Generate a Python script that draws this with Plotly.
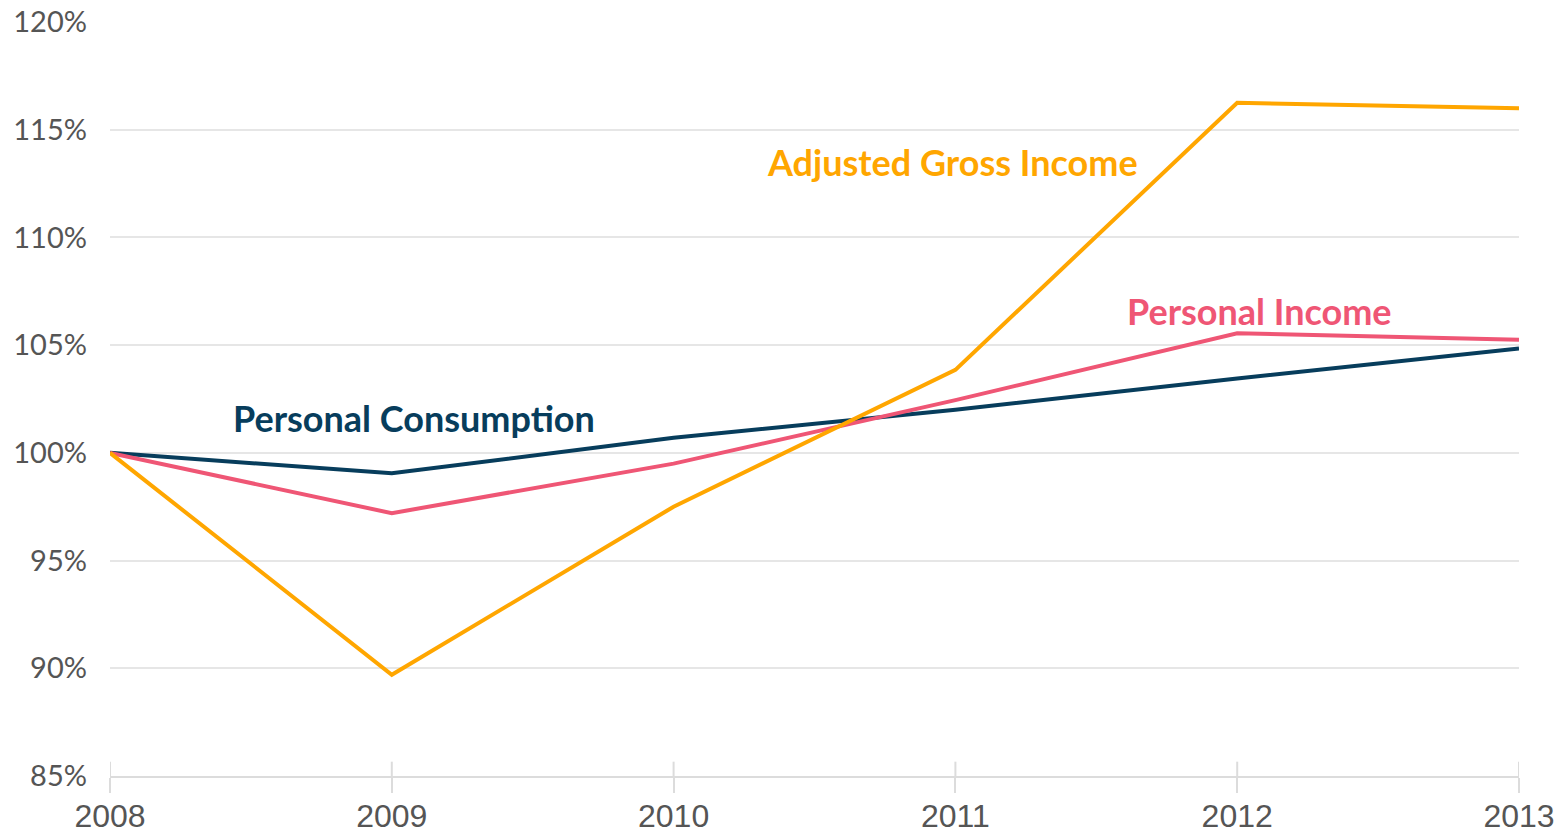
import plotly.graph_objects as go

years = [2008, 2009, 2010, 2011, 2012, 2013]
agi = [100.0, 89.7, 97.5, 103.85, 116.25, 116.0]
personal_income = [100.0, 97.2, 99.5, 102.45, 105.55, 105.25]
personal_consumption = [100.0, 99.05, 100.7, 102.0, 103.45, 104.85]

y_ticks = [85, 90, 95, 100, 105, 110, 115, 120]
y_tick_labels = [f"{v}%" for v in y_ticks]

series = [
    ("Personal Consumption", personal_consumption, "#073D5C", 2009.08, 101.62),
    ("Personal Income", personal_income, "#EF5675", 2012.08, 106.6),
    ("Adjusted Gross Income", agi, "#FFA600", 2010.99, 113.5),
]

fig = go.Figure()
for name, vals, color, ax, ay in series:
    fig.add_trace(go.Scatter(x=years, y=vals, mode="lines", name=name,
                             line=dict(color=color, width=4), showlegend=False))
    fig.add_annotation(x=ax, y=ay, text=f"<b>{name}</b>", showarrow=False,
                       xanchor="center", yanchor="middle",
                       font=dict(family="Lato", size=36, color=color))

# tick marks extending above the axis line
for yr in years:
    fig.add_shape(type="line", xref="x", yref="y domain", x0=yr, x1=yr, y0=0, y1=0.019,
                  line=dict(color="#dcdcdc", width=2), layer="below")

fig.update_layout(
    width=1565, height=834,
    margin=dict(l=110, r=46, t=22, b=58, autoexpand=False),
    plot_bgcolor="white", paper_bgcolor="white",
    xaxis=dict(range=[2008, 2013], tickvals=years, ticktext=[str(y) for y in years],
               automargin=False,
               showgrid=False, zeroline=False, showline=True, linecolor="#dcdcdc", linewidth=2,
               ticks="outside", ticklen=15, tickwidth=2, tickcolor="#dcdcdc",
               ticklabelstandoff=-4,
               tickfont=dict(family="Liberation Sans, Arial", size=32, color="#555555")),
    yaxis=dict(range=[85, 120], tickvals=y_ticks, ticktext=y_tick_labels,
               automargin=False,
               showgrid=True, gridcolor="#e6e6e6", gridwidth=1.5, zeroline=False,
               ticklabelstandoff=22,
               tickfont=dict(family="Lato", size=29, color="#555555")),
)

fig.write_html(
    "out.html",
    config={"displayModeBar": False},
    post_script="document.body.style.margin='0';document.body.style.padding='0';"
                "document.body.style.overflow='hidden';",
)
